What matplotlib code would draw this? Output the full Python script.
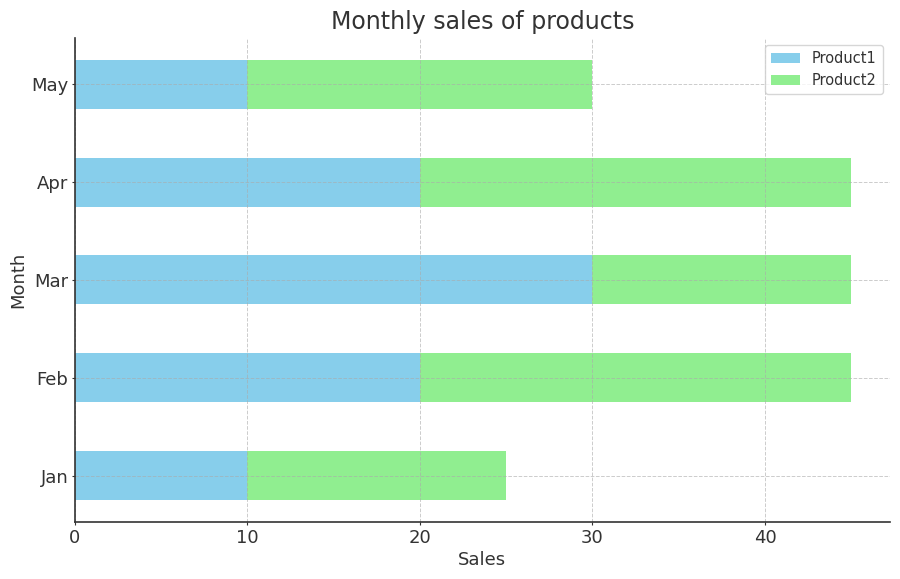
import matplotlib.pyplot as plt
import numpy as np

months = ['Jan', 'Feb', 'Mar', 'Apr', 'May']
product1 = [10, 20, 30, 20, 10]
product2 = [15, 25, 15, 25, 20]

plt.rcParams['text.color'] = '#333333'
plt.rcParams['axes.labelcolor'] = '#333333'
plt.rcParams['xtick.color'] = '#333333'
plt.rcParams['ytick.color'] = '#333333'

fig, ax = plt.subplots(figsize=(9, 5.79), dpi=100)

y = np.arange(len(months))
ax.barh(y, product1, height=0.5, color='skyblue', label='Product1')
ax.barh(y, product2, height=0.5, left=product1, color='lightgreen', label='Product2')

ax.set_yticks(y)
ax.set_yticklabels(months)
ax.set_title('Monthly sales of products', fontsize=17)
ax.set_xlabel('Sales', fontsize=13, labelpad=3)
ax.set_ylabel('Month', fontsize=13, labelpad=3)
ax.tick_params(labelsize=13, length=2.5, pad=2)

ax.grid(True, linestyle='--', color='#aaaaaa', alpha=0.6, linewidth=0.7)
ax.spines['top'].set_visible(False)
ax.spines['right'].set_visible(False)
for s in ['left', 'bottom']:
    ax.spines[s].set_color('#333333')
    ax.spines[s].set_linewidth(1.2)

ax.legend(loc='upper right', fontsize=10.5)

plt.subplots_adjust(left=0.083, right=0.989, top=0.935, bottom=0.098)
plt.savefig('out.png')
